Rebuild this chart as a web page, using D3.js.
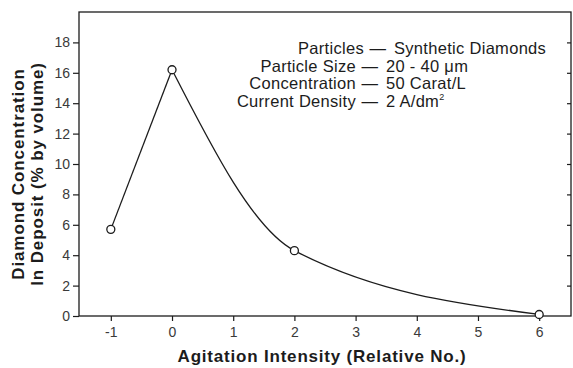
<!DOCTYPE html>
<html>
<head>
<meta charset="utf-8">
<script src="https://cdn.jsdelivr.net/npm/d3@7"></script>
<style>
  body { margin: 0; background: #fff; }
  svg { display: block; font-family: "Liberation Sans", Arial, Helvetica, sans-serif; }
</style>
</head>
<body>
<div id="root"></div>
<script>
// data
const agitation = [-1, 0, 2, 6];
const diamondPct = [5.7, 16.2, 4.3, 0.1];
const xTicks = [-1, 0, 1, 2, 3, 4, 5, 6];
const yTicks = [0, 2, 4, 6, 8, 10, 12, 14, 16, 18];
const noteLabels = ["Particles", "Particle Size", "Concentration", "Current Density"];
const noteValues = ["Synthetic Diamonds", "20 - 40 \u03bcm", "50 Carat/L", "2 A/dm"];

const w = 573;
const h = 368;
const plotLeft = 79, plotRight = 571, plotTop = 12, plotBottom = 316;
const ink = "#1c1c1c";

const svg = d3.select("#root")
    .append("svg")
    .attr("width", w)
    .attr("height", h);

const xScale = d3.scaleLinear()
    .domain([-1.52, 6.52])
    .range([plotLeft, plotRight]);

const yScale = d3.scaleLinear()
    .domain([0, 20])
    .range([plotBottom, plotTop]);

// frame
svg.append("rect")
    .attr("x", plotLeft)
    .attr("y", plotTop)
    .attr("width", plotRight - plotLeft)
    .attr("height", plotBottom - plotTop)
    .attr("fill", "none")
    .attr("stroke", ink)
    .attr("stroke-width", 1.3);

// y-axis
const yAxis = svg.append("g")
    .attr("transform", "translate(" + plotLeft + ", 0)")
    .call(d3.axisLeft(yScale).tickValues(yTicks).tickSize(6).tickPadding(3));

// inner ticks on the right edge
const yAxisRight = svg.append("g")
    .attr("transform", "translate(" + plotRight + ", 0)")
    .call(d3.axisRight(yScale).tickValues(yTicks.filter(d => d > 0)).tickSize(-4).tickFormat(""));

// x-axis
const xAxis = svg.append("g")
    .attr("transform", "translate(0, " + plotBottom + ")")
    .call(d3.axisBottom(xScale).tickValues(xTicks).tickSize(5).tickPadding(6).tickFormat(d => d));

[yAxis, yAxisRight, xAxis].forEach(g => {
    g.select(".domain").remove();
    g.selectAll("line").attr("stroke", ink).attr("stroke-width", 1.2);
    g.selectAll("text")
        .attr("fill", "#3a3a3a")
        .style("font-size", "14px")
        .style("font-family", "'Liberation Sans', Arial, sans-serif");
});

// curve: rising side and falling side drawn separately so the peak stays sharp
const pts = agitation.map((a, i) => [a, diamondPct[i]]);
const peakX = agitation[diamondPct.indexOf(d3.max(diamondPct))];
const line = d3.line()
    .x(d => xScale(d[0]))
    .y(d => yScale(d[1]))
    .curve(d3.curveMonotoneX);

[pts.filter(d => d[0] <= peakX), pts.filter(d => d[0] >= peakX)].forEach(seg => {
    svg.append("path")
        .datum(seg)
        .attr("d", line)
        .attr("fill", "none")
        .attr("stroke", ink)
        .attr("stroke-width", 1.3)
        .attr("stroke-linejoin", "round");
});

svg.selectAll("circle.pt")
    .data(pts)
    .enter()
    .append("circle")
    .attr("class", "pt")
    .attr("cx", d => xScale(d[0]))
    .attr("cy", d => yScale(d[1]))
    .attr("r", 4)
    .attr("fill", "#fff")
    .attr("stroke", ink)
    .attr("stroke-width", 1.3);

// x-axis label
svg.append("text")
    .attr("x", 322)
    .attr("y", 362)
    .attr("text-anchor", "middle")
    .attr("fill", ink)
    .style("font-size", "17px")
    .style("font-weight", "bold")
    .style("letter-spacing", "0.8px")
    .text("Agitation Intensity (Relative No.)");

// y-axis label, two lines
const yLab = svg.append("text")
    .attr("transform", "translate(0, 174) rotate(-90)")
    .attr("text-anchor", "middle")
    .attr("fill", ink)
    .style("font-size", "17px")
    .style("font-weight", "bold")
    .style("letter-spacing", "0.9px");
yLab.append("tspan").attr("x", 0).attr("y", 23.5).text("Diamond Concentration");
yLab.append("tspan").attr("x", 0).attr("y", 43).text("In Deposit (% by volume)");

// notes block
const notes = svg.append("g")
    .style("font-size", "16.5px")
    .style("letter-spacing", "0.3px")
    .attr("fill", ink);

noteLabels.forEach((lab, i) => {
    const shift = i === 0 ? 8 : 0;
    const y = 54 + i * 17.7;
    notes.append("text")
        .attr("x", 356 + shift)
        .attr("y", y)
        .attr("text-anchor", "end")
        .text(lab);
    notes.append("text")
        .attr("x", 370 + shift)
        .attr("y", y)
        .attr("text-anchor", "middle")
        .text("\u2014");
    const val = notes.append("text")
        .attr("x", 386 + shift)
        .attr("y", y)
        .text(noteValues[i]);
    if (i === 3) {
        val.append("tspan")
            .attr("dy", -7)
            .style("font-size", "9px")
            .text("2");
    }
});
</script>
</body>
</html>
